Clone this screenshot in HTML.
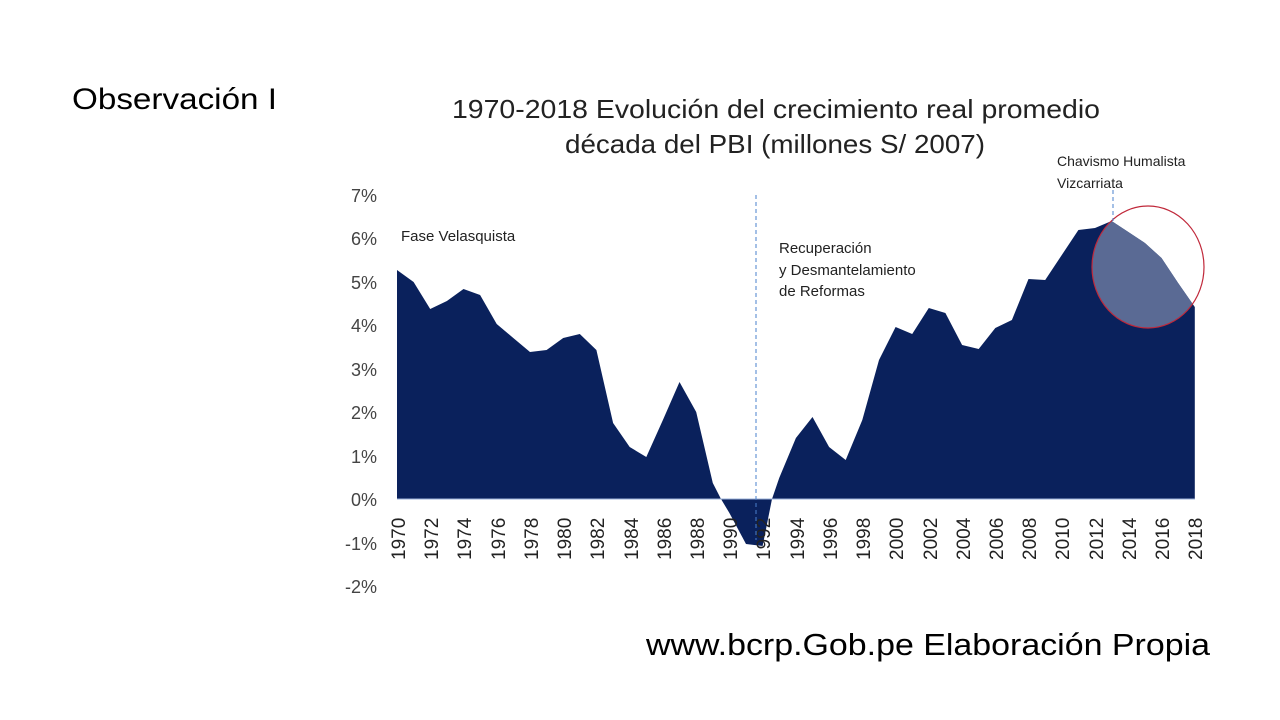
<!DOCTYPE html>
<html><head><meta charset="utf-8"><style>html,body{margin:0;padding:0;background:#fff;}svg{display:block}</style></head>
<body>
<svg width="1280" height="720" viewBox="0 0 1280 720" xmlns="http://www.w3.org/2000/svg" font-family="Liberation Sans, sans-serif">
<defs>
<clipPath id="area"><path id="ap" d="M397,499 L397,270 L413.6,282 L430.2,309 L446.9,301 L463.5,289 L480.1,295 L496.7,324 L513.3,338 L530,352 L546.6,350 L563.2,338 L579.8,334 L596.4,350 L613.1,423 L629.7,447 L646.3,457 L662.9,420 L679.5,382 L696.2,412 L712.8,483 L721,499 L729.4,513 L746,544 L762.6,546 L772,499 L779.2,478 L795.9,438 L812.5,417 L829.1,447 L845.7,460 L862.3,420 L879,360 L895.6,327 L912.2,334 L928.8,308 L945.4,313 L962.1,345 L978.7,349 L995.3,328 L1011.9,320 L1028.5,279 L1045.2,280 L1061.8,255 L1078.4,230 L1095,228 L1111.6,221 L1128.3,232 L1144.9,243 L1161.5,258 L1178.1,283 L1194.8,307 L1194.8,499 Z"/></clipPath>
</defs>
<text x="72" y="109" font-size="30" fill="#000" textLength="205" lengthAdjust="spacingAndGlyphs">Observación I</text>
<text x="452" y="118" font-size="26" fill="#222" textLength="648" lengthAdjust="spacingAndGlyphs">1970-2018 Evolución del crecimiento real promedio</text>
<text x="565" y="153" font-size="26" fill="#222" textLength="420" lengthAdjust="spacingAndGlyphs">década del PBI (millones S/ 2007)</text>
<g font-size="18" fill="#444" text-anchor="end">
<text x="377" y="202">7%</text><text x="377" y="245">6%</text><text x="377" y="289">5%</text><text x="377" y="332">4%</text><text x="377" y="376">3%</text><text x="377" y="419">2%</text><text x="377" y="463">1%</text><text x="377" y="506">0%</text><text x="377" y="550">-1%</text><text x="377" y="593">-2%</text>
</g>
<use href="#ap" fill="#0a215c"/>
<g clip-path="url(#area)"><ellipse cx="1148" cy="267" rx="56" ry="61" fill="#5a6a94"/></g>
<ellipse cx="1148" cy="267" rx="56" ry="61" fill="none" stroke="#c0283a" stroke-width="1.2"/>
<line x1="397" y1="499" x2="1195" y2="499" stroke="#9ab0d8" stroke-width="1"/>
<line x1="756" y1="195" x2="756" y2="540" stroke="#4a80cc" stroke-width="1" stroke-dasharray="4,3"/>
<line x1="1113" y1="190" x2="1113" y2="221" stroke="#4a80cc" stroke-width="1" stroke-dasharray="4,3"/>
<g font-size="19" fill="#222">
<text transform="translate(405,560) rotate(-90)">1970</text>
<text transform="translate(438,560) rotate(-90)">1972</text>
<text transform="translate(471,560) rotate(-90)">1974</text>
<text transform="translate(505,560) rotate(-90)">1976</text>
<text transform="translate(538,560) rotate(-90)">1978</text>
<text transform="translate(571,560) rotate(-90)">1980</text>
<text transform="translate(604,560) rotate(-90)">1982</text>
<text transform="translate(638,560) rotate(-90)">1984</text>
<text transform="translate(671,560) rotate(-90)">1986</text>
<text transform="translate(704,560) rotate(-90)">1988</text>
<text transform="translate(737,560) rotate(-90)">1990</text>
<text transform="translate(770,560) rotate(-90)">1992</text>
<text transform="translate(804,560) rotate(-90)">1994</text>
<text transform="translate(837,560) rotate(-90)">1996</text>
<text transform="translate(870,560) rotate(-90)">1998</text>
<text transform="translate(903,560) rotate(-90)">2000</text>
<text transform="translate(937,560) rotate(-90)">2002</text>
<text transform="translate(970,560) rotate(-90)">2004</text>
<text transform="translate(1003,560) rotate(-90)">2006</text>
<text transform="translate(1036,560) rotate(-90)">2008</text>
<text transform="translate(1069,560) rotate(-90)">2010</text>
<text transform="translate(1103,560) rotate(-90)">2012</text>
<text transform="translate(1136,560) rotate(-90)">2014</text>
<text transform="translate(1169,560) rotate(-90)">2016</text>
<text transform="translate(1202,560) rotate(-90)">2018</text>
</g>
<g font-size="15" fill="#222">
<text x="401" y="241">Fase Velasquista</text>
<text x="779" y="253">Recuperación</text>
<text x="779" y="275">y Desmantelamiento</text>
<text x="779" y="296">de Reformas</text>
<text x="1057" y="166" font-size="14">Chavismo Humalista</text>
<text x="1057" y="188" font-size="14">Vizcarriata</text>
</g>
<text x="646" y="655" font-size="31" fill="#000" textLength="564" lengthAdjust="spacingAndGlyphs">www.bcrp.Gob.pe  Elaboración Propia</text>
</svg>
</body></html>
